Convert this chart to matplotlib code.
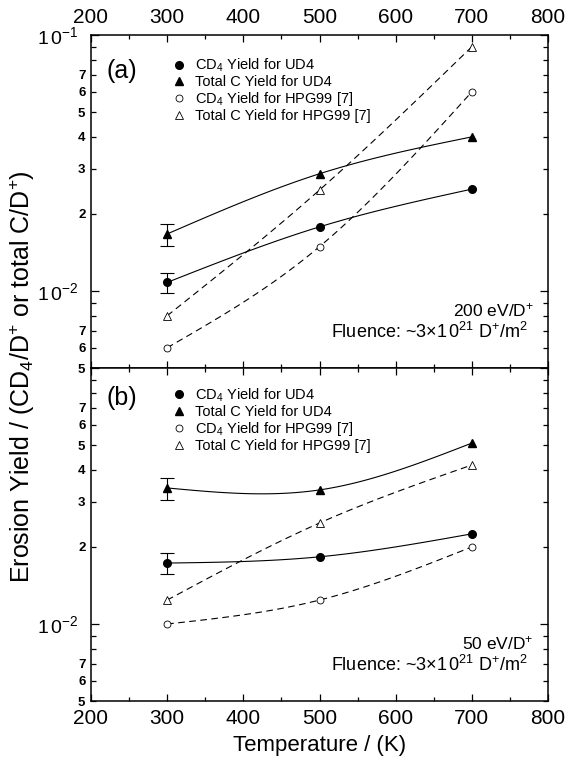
import numpy as np
import matplotlib
matplotlib.use("Agg")
import matplotlib.pyplot as plt
from matplotlib.ticker import FixedLocator, LogLocator, FuncFormatter, MultipleLocator
from matplotlib.lines import Line2D

plt.rcParams['font.family'] = ['Liberation Sans', 'DejaVu Sans']
plt.rcParams['mathtext.fontset'] = 'custom'
plt.rcParams['mathtext.rm'] = 'Liberation Sans'
plt.rcParams['mathtext.it'] = 'Liberation Sans:italic'
plt.rcParams['mathtext.bf'] = 'Liberation Sans:bold'

# temperatures (K)
temps = [300, 500, 700]

# panel (a): 200 eV/D+
a_cd4_ud4 = [0.0108, 0.0178, 0.0250]
a_cd4_ud4_lo = [0.0098]
a_cd4_ud4_hi = [0.0118]
a_totc_ud4 = [0.0167, 0.0287, 0.0400]
a_totc_ud4_lo = [0.0150]
a_totc_ud4_hi = [0.0183]
a_cd4_hpg = [0.0060, 0.0149, 0.0600]
a_totc_hpg = [0.0080, 0.0248, 0.0900]

# panel (b): 50 eV/D+
b_cd4_ud4 = [0.0173, 0.0183, 0.0225]
b_cd4_ud4_lo = [0.0157]
b_cd4_ud4_hi = [0.0189]
b_totc_ud4 = [0.0340, 0.0334, 0.0509]
b_totc_ud4_lo = [0.0305]
b_totc_ud4_hi = [0.0372]
b_cd4_hpg = [0.0100, 0.0124, 0.0200]
b_totc_hpg = [0.0124, 0.0248, 0.0418]

labels = ["CD$_4$ Yield for UD4", "Total C Yield for UD4",
          "CD$_4$ Yield for HPG99 [7]", "Total C Yield for HPG99 [7]"]


def natural_spline(x, y, xs):
    # natural cubic spline through the points
    x = np.asarray(x, float)
    y = np.asarray(y, float)
    n = len(x)
    h = np.diff(x)
    A = np.zeros((n, n))
    r = np.zeros(n)
    A[0, 0] = A[-1, -1] = 1
    for i in range(1, n - 1):
        A[i, i - 1] = h[i - 1]
        A[i, i] = 2 * (h[i - 1] + h[i])
        A[i, i + 1] = h[i]
        r[i] = 6 * ((y[i + 1] - y[i]) / h[i] - (y[i] - y[i - 1]) / h[i - 1])
    M = np.linalg.solve(A, r)
    out = np.empty_like(xs)
    for j, xv in enumerate(xs):
        i = min(max(np.searchsorted(x, xv) - 1, 0), n - 2)
        t1 = x[i + 1] - xv
        t0 = xv - x[i]
        out[j] = (M[i] * t1 ** 3 + M[i + 1] * t0 ** 3) / (6 * h[i]) \
            + (y[i] / h[i] - M[i] * h[i] / 6) * t1 \
            + (y[i + 1] / h[i] - M[i + 1] * h[i] / 6) * t0
    return out


def smooth(ax, x, y, ls):
    xs = np.linspace(x[0], x[-1], 120)
    ys = 10 ** natural_spline(x, np.log10(y), xs)
    if ls == '--':
        ax.plot(xs, ys, color='black', lw=0.8, ls='--', dashes=(6, 4), zorder=2)
    else:
        ax.plot(xs, ys, color='black', lw=0.8, zorder=2)


def minor_fmt(v, pos):
    m = v / 10 ** np.floor(np.log10(v) + 1e-9)
    d = int(round(m))
    if d in (2, 3, 4, 5, 6, 7):
        return str(d)
    return ""


def panel(ax, cd4_ud4, lo1, hi1, totc_ud4, lo2, hi2, cd4_hpg, totc_hpg,
          tag, tag_y, leg_y, energy, top, ylab_top):
    smooth(ax, temps, cd4_ud4, '-')
    smooth(ax, temps, totc_ud4, '-')
    smooth(ax, temps, cd4_hpg, '--')
    smooth(ax, temps, totc_hpg, '--')

    ax.errorbar(temps[:1], cd4_ud4[:1],
                yerr=[[cd4_ud4[0] - lo1[0]], [hi1[0] - cd4_ud4[0]]],
                fmt='none', ecolor='black', elinewidth=0.8, capsize=5, capthick=0.8)
    ax.errorbar(temps[:1], totc_ud4[:1],
                yerr=[[totc_ud4[0] - lo2[0]], [hi2[0] - totc_ud4[0]]],
                fmt='none', ecolor='black', elinewidth=0.8, capsize=5, capthick=0.8)

    ax.plot(temps, cd4_ud4, 'o', ms=5.5, color='black', zorder=3)
    ax.plot(temps, totc_ud4, '^', ms=6, color='black', zorder=3)
    ax.plot(temps, cd4_hpg, 'o', ms=5, mfc='white', mec='black', mew=0.6, zorder=3)
    ax.plot(temps, totc_hpg, '^', ms=5.5, mfc='white', mec='black', mew=0.6, zorder=3)

    ax.set_yscale('log')
    ax.set_ylim(0.005, 0.1)
    ax.set_xlim(200, 800)
    ax.xaxis.set_major_locator(MultipleLocator(100))
    ax.xaxis.set_minor_locator(MultipleLocator(50))

    ax.yaxis.set_major_locator(FixedLocator([0.01, 0.1]))
    major_labels = {0.01: r"$1\,0^{-2}$", 0.1: r"$1\,0^{-1}$" if ylab_top else ""}
    ax.yaxis.set_major_formatter(FuncFormatter(
        lambda v, p: major_labels.get(round(v, 4), "")))
    ax.yaxis.set_minor_locator(LogLocator(base=10, subs=np.arange(2, 10)))
    ax.yaxis.set_minor_formatter(FuncFormatter(minor_fmt))

    ax.tick_params(which='both', direction='in', top=True, right=True,
                   labeltop=top, labelbottom=not top, width=0.9)
    ax.tick_params(axis='x', which='major', length=5, labelsize=15, pad=6)
    ax.tick_params(axis='x', which='minor', length=3)
    ax.tick_params(axis='y', which='major', length=6, labelsize=14, pad=9)
    ax.tick_params(axis='y', which='minor', length=3.5, labelsize=9.5, pad=4)
    for t in ax.yaxis.get_minorticklabels():
        t.set_fontweight('bold')
    for s in ax.spines.values():
        s.set_linewidth(1.1)

    ax.text(0.035, tag_y, tag, transform=ax.transAxes, fontsize=18,
            ha='left', va='center')

    handles = [
        Line2D([], [], ls='none', marker='o', ms=5.5, color='black'),
        Line2D([], [], ls='none', marker='^', ms=6, color='black'),
        Line2D([], [], ls='none', marker='o', ms=5, mfc='white', mec='black', mew=0.6),
        Line2D([], [], ls='none', marker='^', ms=5.5, mfc='white', mec='black', mew=0.6),
    ]
    ax.legend(handles, labels, loc='upper left', bbox_to_anchor=(0.18, leg_y),
              frameon=False, fontsize=10.5, handlelength=0.8, handletextpad=0.7,
              labelspacing=0.07, borderpad=0, borderaxespad=0)

    ax.text(0.969, 0.174, energy, transform=ax.transAxes, fontsize=12.5,
            ha='right', va='center')
    ax.text(0.956, 0.108, "Fluence: ~3\u00d71$\\,$0$^{21}$ D$^{+}$/m$^{2}$",
            transform=ax.transAxes, fontsize=13, ha='right', va='center')


fig = plt.figure(figsize=(5.65, 7.61), dpi=100)
axa = fig.add_axes([0.161, 0.5164, 0.809, 0.4376])
axb = fig.add_axes([0.161, 0.0788, 0.809, 0.4376])

panel(axa, a_cd4_ud4, a_cd4_ud4_lo, a_cd4_ud4_hi, a_totc_ud4, a_totc_ud4_lo,
      a_totc_ud4_hi, a_cd4_hpg, a_totc_hpg, "(a)", 0.893, 0.935,
      "200 eV/D$^{+}$", True, True)
panel(axb, b_cd4_ud4, b_cd4_ud4_lo, b_cd4_ud4_hi, b_totc_ud4, b_totc_ud4_lo,
      b_totc_ud4_hi, b_cd4_hpg, b_totc_hpg, "(b)", 0.91, 0.945,
      "50 eV/D$^{+}$", False, False)

axb.set_xlabel("Temperature / (K)", fontsize=16, labelpad=5)
fig.text(0.039, 0.505, "Erosion Yield / (CD$_4$/D$^{+}$ or total C/D$^{+}$)",
         rotation=90, fontsize=18, ha='center', va='center')

fig.savefig("out.png", dpi=100)
